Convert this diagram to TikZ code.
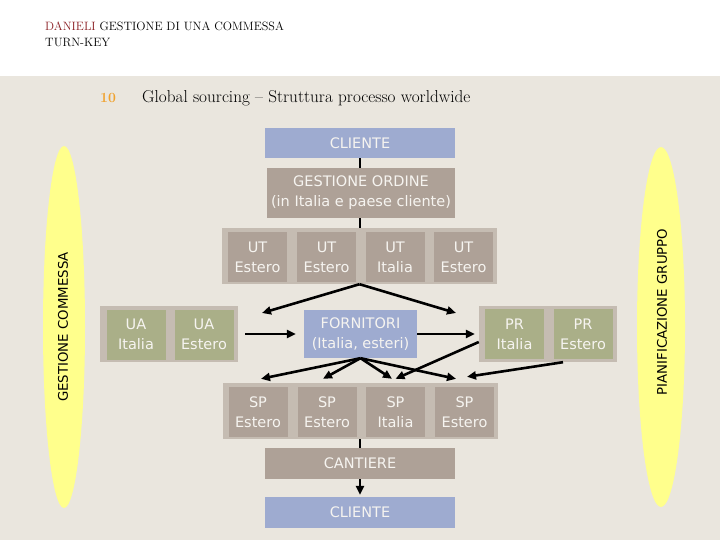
\documentclass[tikz,border=0pt]{standalone}
\usepackage{fontspec}
\usetikzlibrary{arrows.meta}
\newfontfamily\boxfont{DejaVu Sans}

\definecolor{bgbeige}{RGB}{234,230,222}
\definecolor{cliblue}{RGB}{158,171,208}
\definecolor{boxbrown}{RGB}{174,161,151}
\definecolor{grpgray}{RGB}{197,188,178}
\definecolor{uagreen}{RGB}{170,175,136}
\definecolor{ellyellow}{RGB}{255,255,140}
\definecolor{boxtext}{RGB}{246,244,240}
\definecolor{danred}{RGB}{139,30,35}
\definecolor{numorange}{RGB}{240,162,46}

\begin{document}
\begin{tikzpicture}[x=1pt,y=-1pt,
    box/.style={rectangle,inner sep=0pt,text=boxtext,align=center,
      font=\boxfont\fontsize{14.5}{20}\selectfont},
    bluebox/.style={box,fill=cliblue},
    brownbox/.style={box,fill=boxbrown,minimum width=59pt,minimum height=50pt},
    greenbox/.style={box,fill=uagreen,minimum width=59pt,minimum height=50pt},
    grp/.style={fill=grpgray,inner sep=0pt,minimum width=#1,minimum height=56pt},
    side/.style={rotate=90,inner sep=0pt,font=\boxfont\fontsize{13.3}{16}\selectfont},
    serif/.style={anchor=base west,inner sep=0pt},
    link/.style={line width=2.6pt},
    >={Triangle[length=9pt,width=8pt]}]
    \useasboundingbox (0,0) rectangle (720,540);
    \fill[white] (0,0) rectangle (720,76);
    \fill[bgbeige] (0,76) rectangle (720,540);

    \node[serif,font=\fontsize{12.1}{14}\selectfont] (hdr) at (45,31)
      {\textcolor{danred}{DANIELI} GESTIONE DI UNA COMMESSA};
    \node[serif,font=\fontsize{12.1}{14}\selectfont] (hdrb) at (45,47) {TURN-KEY};
    \node[serif,font=\bfseries\fontsize{14}{16}\selectfont,text=numorange] (num) at (100,103) {10};
    \node[serif,font=\fontsize{17.2}{20}\selectfont] (title) at (142,103)
      {Global sourcing – Struttura processo worldwide};

    \fill[ellyellow] (64,327) ellipse [x radius=21, y radius=181];
    \fill[ellyellow] (661,327) ellipse [x radius=24, y radius=180];
    \node[side] (gcom) at (63,327) {GESTIONE COMMESSA};
    \node[side] (pgru) at (662,312) {PIANIFICAZIONE GRUPPO};

    \node[bluebox,minimum width=190pt,minimum height=30pt] (cli) at (360,143) {CLIENTE};
    \node[box,fill=boxbrown,minimum width=188pt,minimum height=50pt] (gest) at (361,193)
      {GESTIONE ORDINE\\(in Italia e paese cliente)};

    \node[grp=275pt] (utgrp) at (359.5,256) {};
    \node[brownbox] (ut1) at (257.5,257) {UT\\Estero};
    \node[brownbox] (ut2) at (326.5,257) {UT\\Estero};
    \node[brownbox] (ut3) at (395,257) {UT\\Italia};
    \node[brownbox] (ut4) at (463.5,257) {UT\\Estero};

    \node[grp=138pt] (uagrp) at (169,334) {};
    \node[greenbox] (ua1) at (136,334.5) {UA\\Italia};
    \node[greenbox] (ua2) at (204,334.5) {UA\\Estero};

    \node[bluebox,minimum width=113pt,minimum height=48pt] (forn) at (360.5,334)
      {FORNITORI\\(Italia, esteri)};

    \node[grp=138pt] (prgrp) at (548,334) {};
    \node[greenbox] (pr1) at (514.5,334) {PR\\Italia};
    \node[greenbox] (pr2) at (583,334) {PR\\Estero};

    \node[grp=275pt] (spgrp) at (360,411) {};
    \node[brownbox] (sp1) at (258,412) {SP\\Estero};
    \node[brownbox] (sp2) at (327,412) {SP\\Estero};
    \node[brownbox] (sp3) at (395.5,412) {SP\\Italia};
    \node[brownbox] (sp4) at (464.5,412) {SP\\Estero};

    \node[box,fill=boxbrown,minimum width=190pt,minimum height=31pt] (cant) at (360,463.5) {CANTIERE};
    \node[bluebox,minimum width=190pt,minimum height=31pt] (clib) at (360,512.5) {CLIENTE};

    \coordinate (ual) at (262,313);
    \coordinate (utr) at (456,313);

    \draw[link] (cli.south) -- (cli.south |- gest.north);
    \draw[link] (cli.south |- gest.south) -- (cli.south |- utgrp.north);
    \draw[link,->] (utgrp.south) -- (ual);
    \draw[link,->] (utgrp.south) -- (utr);
    \draw[link,->,shorten <=7pt,shorten >=8pt] (uagrp.east) -- (forn.west);
    \draw[link,->,shorten >=4pt] (forn.east) -- (prgrp.west);
    \draw[link,->] (forn.south) -- ([xshift=3pt,yshift=8pt]sp1.north);
    \draw[link,->] (forn.south) -- ([xshift=-4pt,yshift=8pt]sp2.north);
    \draw[link,->] (forn.south) -- ([xshift=-3.5pt,yshift=8pt]sp3.north);
    \draw[link,->] (forn.south) -- ([xshift=-8.5pt,yshift=8pt]sp4.north);
    \draw[link,->] ([yshift=-8pt]prgrp.west) -- ([yshift=8pt]sp3.north);
    \draw[link,->] ([xshift=15pt]prgrp.south) -- ([xshift=2.5pt,yshift=10pt]sp4.north);
    \draw[link] (spgrp.south) -- (cant.north);
    \draw[link,->,shorten >=2pt] (cant.south) -- (clib.north);
\end{tikzpicture}
\end{document}
